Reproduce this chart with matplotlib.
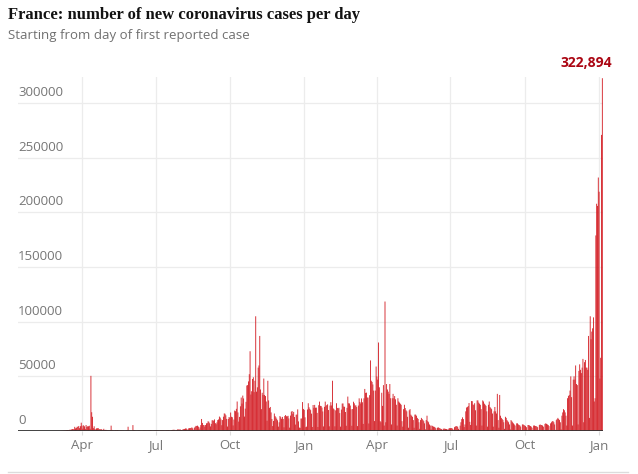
import matplotlib
matplotlib.use("Agg")
import matplotlib.pyplot as plt
import matplotlib.dates as mdates
import pandas as pd
import numpy as np

# daily new cases, in thousands
jan20 = [0.003, 0, 0, 0, 0, 0.001, 0, 0.001]
feb20 = [0, 0, 0, 0, 0, 0, 0.005, 0, 0, 0.001,
         0, 0, 0, 0, 0.001, 0, 0, 0, 0, 0,
         0, 0, 0, 0, 0.002, 0.004, 0.018, 0.019, 0.043]
mar20 = [0.03, 0.04, 0.07, 0.03, 0.1, 0.1, 0.2, 0.2, 0.3, 0.4,
         0.5, 0.6, 0.8, 0.9, 0.8, 0.9, 1.2, 1.1, 1.4, 1.8,
         1.6, 1.8, 3.8, 2.4, 2.9, 3.9, 3.8, 4.6, 2.6, 4.4,
         7.6]
apr20 = [4.9, 2.1, 5.2, 4.3, 1.9, 5.5, 3.8, 4.3, 4.3, 4.8,
         2.0, 50.5, 17.2, 13.0, 2.6, 4.3, 1.9, 1.2, 2.4, 2.5,
         2.7, 1.8, 1.6, 1.5, 1.6, 0.9, 1.2, 2.0, 0.8, 1.0]
may20 = [1.0, 0.7, 0.8, 0.6, 0.5, 0.7, 4.9, 1.0, 0.6, 0.5,
         0.3, 0.8, 0.7, 0.6, 0.8, 0.5, 0.3, 0.4, 0.6, 0.5,
         0.4, 0.5, 0.3, 0.2, 0.4, 0.5, 0.6, 3.9, 0.6, 0.3,
         0.3]
jun20 = [0.2, 0.3, 5.4, 0.8, 0.6, 0.4, 0.3, 0.3, 0.4, 0.5,
         0.5, 0.4, 0.3, 0.3, 0.3, 0.4, 0.5, 0.4, 0.5, 0.3,
         0.3, 0.4, 0.5, 0.5, 0.6, 0.4, 0.3, 0.3, 0.4, 0.5]
jul20 = [0.5, 0.6, 0.6, 0.5, 0.4, 0.3, 0.6, 0.7, 0.6, 0.7,
         0.6, 0.4, 0.5, 0.6, 0.8, 0.7, 0.8, 0.6, 0.5, 0.5,
         0.9, 1.0, 1.1, 1.1, 1.0, 0.4, 0.7, 1.4, 1.4, 1.4,
         1.3]
aug20 = [1.3, 0.9, 0.7, 1.7, 1.7, 1.9, 2.3, 2.3, 1.6, 0.9,
         2.4, 2.6, 2.7, 2.8, 3.3, 2.5, 1.1, 3.0, 3.8, 4.7,
         4.6, 4.9, 4.0, 1.5, 3.3, 5.4, 11.0, 7.4, 5.5, 5.4,
         4.0]
sep20 = [5.5, 7.0, 7.2, 8.9, 8.5, 7.1, 4.2, 6.5, 9.8, 9.8,
         9.4, 10.6, 7.2, 6.2, 7.9, 10.0, 10.6, 13.2, 12.3, 10.6,
         5.3, 10.0, 13.1, 16.1, 15.8, 14.4, 11.1, 4.1, 11.0, 12.8]
oct20 = [12.1, 16.9, 13.0, 12.6, 5.1, 10.5, 18.7, 18.1, 20.3, 27.0,
         17.0, 8.6, 12.9, 22.6, 30.6, 25.1, 32.4, 29.8, 13.2, 20.5,
         26.7, 41.6, 42.0, 45.4, 52.0, 73.0, 33.4, 36.4, 47.6, 49.2,
         35.6]
nov20 = [46.0, 105.0, 36.0, 40.0, 58.0, 60.0, 87.0, 38.0, 20.0, 35.0,
         33.0, 48.0, 33.0, 32.0, 27.0, 9.4, 46.0, 28.0, 21.0, 22.0,
         17.0, 11.0, 4.5, 9.2, 16.0, 13.6, 12.5, 11.2, 9.8, 4.0]
dec20 = [8.0, 13.7, 12.7, 11.2, 12.9, 11.0, 3.4, 13.7, 14.6, 13.5,
         13.4, 13.9, 11.5, 3.1, 14.1, 17.6, 18.3, 15.7, 17.5, 12.8,
         5.9, 14.9, 15.0, 19.8, 8.8, 3.1, 2.9, 11.4, 11.4, 26.5,
         20.2]
jan21 = [19.3, 12.5, 3.5, 4.0, 19.7, 25.4, 21.7, 20.2, 19.1, 15.9,
         3.7, 23.8, 21.2, 23.9, 21.3, 21.4, 16.6, 3.7, 23.6, 26.9,
         23.0, 22.8, 21.4, 17.9, 4.2, 22.1, 26.9, 22.8, 23.8, 24.4,
         19.2]
feb21 = [4.3, 23.3, 26.4, 23.4, 46.0, 20.6, 19.7, 4.3, 18.9, 25.4,
         21.1, 20.7, 21.2, 16.4, 4.0, 19.6, 25.1, 25.2, 22.4, 22.1,
         17.4, 4.8, 21.2, 31.5, 25.4, 25.2, 23.3, 19.9]
mar21 = [4.8, 20.1, 26.8, 25.3, 23.3, 23.5, 21.9, 4.5, 23.3, 29.9,
         26.6, 25.2, 29.8, 26.3, 6.5, 29.9, 38.5, 34.9, 35.1, 30.6,
         30.6, 6.9, 32.8, 64.6, 46.0, 44.9, 42.6, 37.0, 9.1, 37.0,
         59.0]
apr21 = [50.0, 47.0, 81.0, 40.0, 9.0, 8.0, 35.0, 23.0, 42.0, 5.0,
         118.5, 8.0, 43.0, 38.0, 36.0, 34.0, 43.0, 30.0, 6.0, 30.0,
         34.0, 30.0, 32.0, 29.0, 24.0, 5.0, 30.0, 27.0, 26.0, 25.0]
may21 = [24.0, 9.0, 4.0, 20.0, 24.0, 21.0, 19.0, 18.0, 13.0, 3.0,
         19.0, 20.0, 15.0, 14.0, 13.0, 10.0, 3.0, 15.0, 15.0, 14.0,
         12.0, 11.0, 8.0, 2.0, 10.0, 12.0, 11.0, 10.0, 9.0, 7.0,
         1.5]
jun21 = [10.0, 14.0, 9.0, 8.0, 6.0, 5.0, 1.5, 5.0, 4.5, 4.0,
         3.8, 3.2, 2.5, 0.5, 3.0, 3.3, 2.8, 2.5, 2.0, 1.7,
         0.4, 2.0, 2.2, 2.1, 1.9, 1.8, 1.5, 0.5, 2.2, 2.6]
jul21 = [2.6, 2.7, 2.5, 1.9, 0.6, 3.5, 4.1, 4.4, 4.5, 3.8,
         2.0, 1.0, 4.9, 8.0, 10.9, 12.5, 10.9, 3.6, 6.0, 18.0,
         21.5, 21.9, 22.9, 25.6, 8.4, 5.5, 27.4, 27.3, 24.3, 23.7,
         25.4]
aug21 = [19.0, 5.0, 28.0, 28.0, 26.0, 25.0, 24.0, 20.0, 5.0, 28.0,
         27.0, 25.0, 24.0, 23.0, 18.0, 4.0, 24.0, 27.0, 22.0, 21.0,
         20.0, 16.0, 4.0, 18.0, 22.0, 18.0, 16.0, 34.0, 10.0, 3.0,
         33.0]
sep21 = [14.0, 12.0, 11.0, 10.0, 8.0, 2.0, 13.0, 12.0, 10.0, 9.0,
         8.0, 6.0, 1.5, 10.0, 9.0, 8.0, 7.0, 6.0, 5.0, 1.0,
         7.0, 7.0, 6.0, 5.5, 5.0, 4.0, 0.8, 6.0, 6.0, 5.5]
oct21 = [5.0, 4.5, 3.5, 0.5, 5.5, 5.5, 5.0, 4.5, 4.0, 3.0,
         0.6, 5.0, 5.0, 4.6, 4.5, 4.0, 3.5, 0.6, 5.5, 6.0,
         5.5, 5.5, 5.0, 4.0, 0.7, 6.5, 7.0, 6.5, 6.0, 5.5,
         4.5]
nov21 = [0.8, 7.0, 8.0, 9.0, 9.0, 8.0, 6.0, 1.0, 10.0, 11.0,
         12.0, 11.0, 10.0, 8.0, 1.5, 14.0, 17.0, 20.0, 19.0, 17.0,
         14.0, 5.0, 30.0, 32.0, 33.0, 37.0, 50.0, 31.0, 5.0, 47.0]
dec21 = [50.0, 47.0, 60.0, 43.0, 42.0, 6.0, 55.0, 61.0, 56.0, 53.0,
         58.0, 66.0, 8.0, 63.0, 65.0, 58.0, 58.0, 56.0, 87.0, 12.0,
         105.0, 84.0, 91.0, 94.0, 104.0, 27.0, 30.0, 179.0, 208.0, 206.0,
         232.0]
jan22 = [219.0, 48.0, 67.0, 271.0, 322.894]

months = [jan20, feb20, mar20, apr20, may20, jun20, jul20, aug20, sep20,
          oct20, nov20, dec20, jan21, feb21, mar21, apr21, may21, jun21,
          jul21, aug21, sep21, oct21, nov21, dec21, jan22]
cases = np.round(np.concatenate(months) * 1000)
dates = pd.date_range("2020-01-24", periods=len(cases), freq="D")

W, H = 638, 474
fig = plt.figure(figsize=(W / 100, H / 100), dpi=100)
ax = fig.add_axes([18 / W, 1 - 431 / H, (603 - 18) / W, (431 - 77) / H])

red = "#d2161d"
# thin bars: no pixel snapping so that none of them disappear
ax.bar(dates, cases, width=1.05, color=red, linewidth=0, snap=False)

ax.set_xlim(pd.Timestamp("2020-01-12 18:00"), pd.Timestamp("2022-01-05 20:00"))
ax.set_ylim(0, 324000)

grey = "#767676"
ax.xaxis.set_major_locator(mdates.MonthLocator(bymonth=[1, 4, 7, 10]))
ax.xaxis.set_major_formatter(mdates.DateFormatter("%b"))
ax.tick_params(axis="x", length=3, color="#dddddd", colors=grey, labelsize=9.5, pad=3)
for lab in ax.get_xticklabels():
    lab.set_family("Open Sans")

yt = [0, 50000, 100000, 150000, 200000, 250000, 300000]
ax.set_yticks(yt)
ax.set_yticklabels([])
ax.tick_params(axis="y", length=0)
for v in yt:
    ax.annotate(str(v), xy=(0, v), xycoords=("axes fraction", "data"),
                xytext=(0, 3), textcoords="offset points", ha="left", va="bottom",
                fontsize=9.5, color=grey, family="Open Sans")

ax.grid(True, color="#ececec", linewidth=0.9)
ax.set_axisbelow(True)
for s in ax.spines.values():
    s.set_visible(False)
ax.axhline(0, color="#333333", linewidth=1.3)

peak_i = int(np.argmax(cases))
ax.annotate(f"{int(cases[peak_i]):,}", xy=(dates[peak_i], cases[peak_i]),
            xytext=(7, 11), textcoords="offset points", ha="right", va="center",
            fontsize=10, fontweight="bold", color="#ab0613", family="Open Sans",
            annotation_clip=False)

fig.text(8 / W, 1 - 15 / H, "France: number of new coronavirus cases per day",
         fontsize=12, fontweight="bold", family="Liberation Serif",
         color="#121212", ha="left", va="center")
fig.text(8 / W, 1 - 36 / H, "Starting from day of first reported case",
         fontsize=9.5, family="Open Sans", color="#707070", ha="left", va="center")

fig.add_artist(plt.Line2D([8 / W, 628 / W], [1 - 472 / H, 1 - 472 / H],
                          color="#dcdcdc", linewidth=1))

fig.savefig("out.png", dpi=100)
